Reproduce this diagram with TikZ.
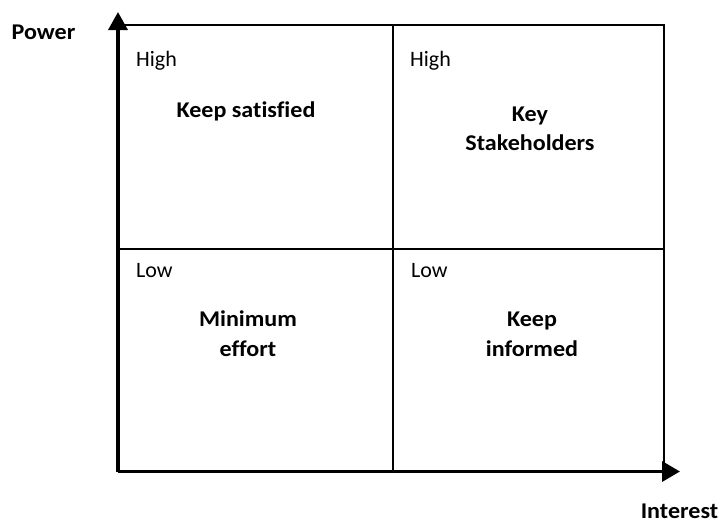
\documentclass[tikz,border=0pt]{standalone}
\usepackage{fontspec}
\setmainfont{Carlito}[Ligatures=NoCommon]
\newfontfamily\boldwide{Carlito}[Ligatures=NoCommon,FakeStretch=1.07,UprightFont=*-Bold]
\usetikzlibrary{arrows.meta}
\begin{document}
\begin{tikzpicture}[x=1pt,y=-1pt,
  boxline/.style={line width=2pt,black},
  axisline/.style={line width=3.5pt,black},
  corner/.style={font=\fontsize{22}{29}\selectfont,anchor=base west,inner sep=0pt},
  quad/.style={font=\boldwide\fontsize{22.5}{29.5}\selectfont,align=center,anchor=base,inner sep=0pt},
  axlabel/.style={font=\boldwide\fontsize{22.5}{29}\selectfont,anchor=base,inner sep=0pt}]
\useasboundingbox (0,0) rectangle (721,522);
% grid
\coordinate (O) at (118,471.5);
\coordinate (TL) at (118,25);
\coordinate (TR) at (664,25);
\coordinate (BR) at (664,471.5);
\coordinate (TM) at (392.5,25);
\coordinate (BM) at (392.5,471.5);
\coordinate (ML) at (118,249);
\coordinate (MR) at (664,249);
\coordinate (YT) at (118,12);
\coordinate (XT) at (680,471.5);
\draw[boxline] (TL) -- (TR) -- (BR);
\draw[boxline] (TM) -- (BM);
\draw[boxline] (ML) -- (MR);
\draw[axisline,-{Triangle[length=18pt,width=19pt]}] (O) -- (YT);
\draw[axisline,-{Triangle[length=18pt,width=20pt]}] (O) -- (XT);
% labels
\node[axlabel] (power) at (43.5,39.5) {Power};
\node[axlabel] (interest) at (679.5,518.5) {Interest};
\node[corner] (h1) at (136,66.5) {High};
\node[corner] (h2) at (410,66.5) {High};
\node[corner] (l1) at (136,277.5) {Low};
\node[corner] (l2) at (411,277.5) {Low};
\node[quad] (ks) at (246,117.3) {Keep satisfied};
\node[quad] (key) at (530,150.7) {Key\\Stakeholders};
\node[quad] (me) at (248,356) {Minimum\\effort};
\node[quad] (ki) at (532,356) {Keep\\informed};
\end{tikzpicture}
\end{document}
